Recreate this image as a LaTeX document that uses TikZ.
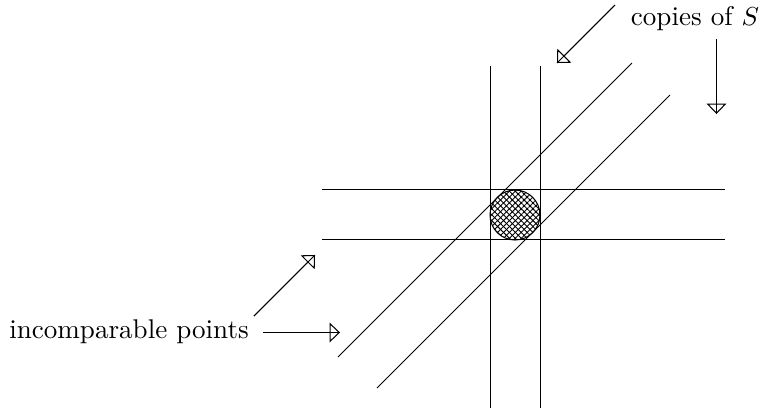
\documentclass[tikz,border=0pt]{standalone}
\usepackage{tikz}
\usetikzlibrary{arrows.meta,patterns.meta}
\tikzset{
  hollow/.style={postaction={draw,-{Triangle[open,length=4pt,width=7.6pt]}}},
  hatch/.style={pattern={Lines[angle=#1,distance=1.6pt,line width=0.35pt]}},
}
\begin{document}
\begin{tikzpicture}[x=0.0135cm,y=-0.0135cm,font=\fontsize{10.4}{12}\selectfont]
\useasboundingbox (0,0) rectangle (761,412);
% strips through S
\foreach \x in {490.5,540.5} \draw (\x,66) -- (\x,408);
\foreach \y in {189.5,239.5} \draw (322,\y) -- (725,\y);
\draw (338,357) -- (632,63);
\draw (377,388) -- (670,95);
% the set S
\fill[hatch=45] (515,215) circle[radius=0.3375cm];
\fill[hatch=-45] (515,215) circle[radius=0.3375cm];
\draw (515,215) circle[radius=0.3375cm];
% labels and pointers
\node (copies) at (695,19) {copies of $S$};
\node (incomp) at (129,332) {incomparable points};
\coordinate (c1) at (615,5);
\coordinate (c1e) at (557,63);
\coordinate (c2) at (716.5,39);
\coordinate (c2e) at (716.5,114);
\coordinate (i1) at (254,316);
\coordinate (i1e) at (315,255);
\coordinate (i2) at (263,332.5);
\coordinate (i2e) at (340,332.5);
\foreach \s/\e in {c1/c1e,c2/c2e,i1/i1e,i2/i2e} \draw[hollow] (\s) -- (\e);
\end{tikzpicture}
\end{document}
